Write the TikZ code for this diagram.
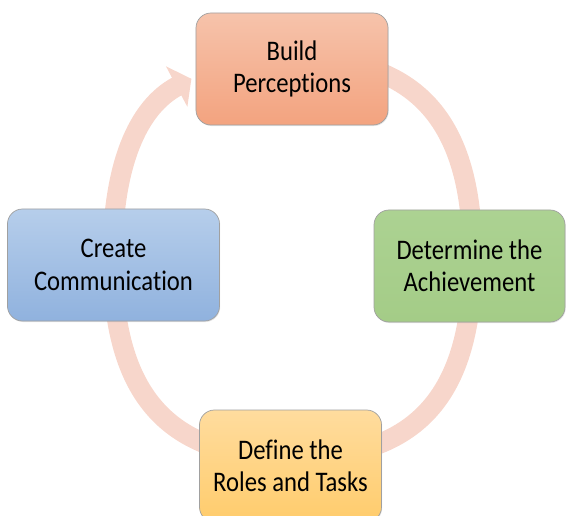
\documentclass[tikz,border=0pt]{standalone}
\usepackage{fontspec}
\setmainfont{Carlito}[FakeStretch=0.87, Ligatures=NoCommon]
\usetikzlibrary{arrows.meta,shadows}

\definecolor{cycleArc}{HTML}{F7D6CB}
\definecolor{buildTop}{HTML}{F6C3AB}
\definecolor{buildBottom}{HTML}{F3A37F}
\definecolor{achieveTop}{HTML}{ACD292}
\definecolor{achieveBottom}{HTML}{A4CC87}
\definecolor{rolesTop}{HTML}{FFDC9E}
\definecolor{rolesBottom}{HTML}{FFCC6C}
\definecolor{commTop}{HTML}{B6CEEB}
\definecolor{commBottom}{HTML}{90B2DE}
\definecolor{stageLine}{HTML}{A0A0A0}

\begin{document}
\begin{tikzpicture}[x=0.03cm, y=-0.03cm,
  stage/.style={draw=stageLine, line width=0.6pt, rounded corners=0.45cm,
    minimum height=3.36cm, align=center,
    font=\fontsize{24.2}{27.5}\selectfont,
    drop shadow={opacity=0.2, shadow xshift=0.6pt, shadow yshift=-0.9pt}}]
\useasboundingbox (0,0) rectangle (566,516);

% cycle arrow, drawn first so the boxes sit on top of it
\draw[cycleArc, line width=0.6cm, -{Triangle[width=1.35cm, length=0.5cm]}]
  (292.5,58) .. controls (416.7,58) and (472.5,120) .. (472.5,258)
  .. controls (472.5,396) and (416.7,458) .. (292.5,458)
  .. controls (168.3,458) and (112.5,396) .. (112.5,258)
  .. controls (112.5,165.5) and (137.6,107.2) .. (191.4,78.8);

\node[stage, top color=buildTop, bottom color=buildBottom, minimum width=5.76cm]
  (build) at (292,69) {Build\\Perceptions};
\node[stage, top color=achieveTop, bottom color=achieveBottom, minimum width=5.73cm]
  (achieve) at (469.5,266) {Determine the\\Achievement};
\node[stage, top color=rolesTop, bottom color=rolesBottom, minimum width=5.46cm]
  (roles) at (290.5,466) {Define the\\Roles and Tasks};
\node[stage, top color=commTop, bottom color=commBottom, minimum width=6.36cm]
  (comm) at (113.5,265) {Create\\Communication};

\end{tikzpicture}
\end{document}
